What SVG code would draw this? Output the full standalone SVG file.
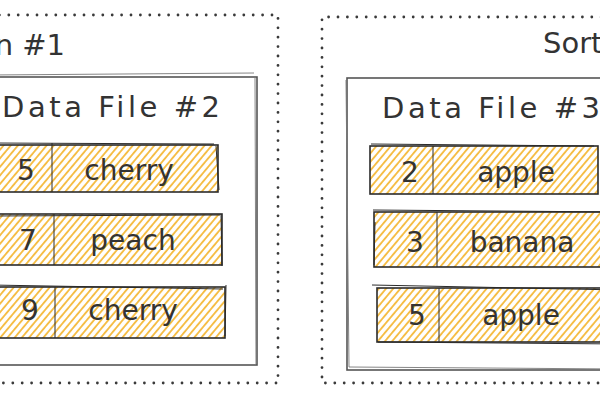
<svg xmlns="http://www.w3.org/2000/svg" width="600" height="400" viewBox="0 0 600 400">
  <defs>
    <pattern id="hatch" patternUnits="userSpaceOnUse" width="5.5" height="5.5" patternTransform="rotate(-50)">
      <line x1="0" y1="2.75" x2="5.5" y2="2.75" stroke="#f5bd45" stroke-width="1.9"/>
    </pattern>
    <style>
      .dots { fill: none; stroke: #3a3a3a; stroke-width: 2.8; stroke-linecap: round; stroke-dasharray: 0 9.4; }
      .box { fill: #fff; stroke: #555; stroke-width: 1.6; }
      .sk { fill: none; stroke: #777; stroke-width: 0.9; }
      .row { fill: url(#hatch); stroke: #2b2b2b; stroke-width: 1.6; }
      .rsk { fill: none; stroke: #2b2b2b; stroke-width: 1; }
      .t { font-family: "DejaVu Sans", "Noto Sans", sans-serif; fill: #333; }
      .title { font-size: 29px; }
      .cell { font-size: 28px; text-anchor: middle; }
    </style>
  </defs>

  <g id="container-left">
    <path class="dots" d="M-10 15 L278 15 L278 383 L-10 383"/>
    <text class="t title" x="65" y="55" text-anchor="end">n #1</text>
  </g>
  <g id="container-right">
    <path class="dots" d="M620 17 L322 17 L322 383 L620 383"/>
    <text class="t title" x="543" y="53">Sort</text>
  </g>

  <g id="file-2">
    <rect class="box" x="-10" y="77" width="267" height="288"/>
    <path class="sk" d="M-10 75 L254 73 M255 78 L256 364"/>
    <text class="t title" x="2" y="117" textLength="218" lengthAdjust="spacing">Data File #2</text>
  </g>
  <g id="file-3">
    <rect class="box" x="347" y="78" width="273" height="292"/>
    <path class="sk" d="M346 80 L349 367 L620 369"/>
    <text class="t title" x="382" y="118" textLength="218" lengthAdjust="spacing">Data File #3</text>
  </g>

  <g id="row-l1">
    <rect class="row" x="-10" y="145" width="228" height="47"/>
    <path class="rsk" d="M-10 143 L214 144 M216 146 L219 190 M52 143 L52 192"/>
    <text class="t cell" x="26" y="180">5</text>
    <text class="t cell" x="129" y="180">cherry</text>
  </g>
  <g id="row-l2">
    <rect class="row" x="-10" y="214" width="232" height="51"/>
    <path class="rsk" d="M-10 216 L220 215 M221 214 L222 266 M54 214 L54 265"/>
    <text class="t cell" x="28" y="250">7</text>
    <text class="t cell" x="133" y="250">peach</text>
  </g>
  <g id="row-l3">
    <rect class="row" x="-10" y="287" width="235" height="51"/>
    <path class="rsk" d="M-10 285 L223 289 M226 285 L225 336 M55 287 L55 338"/>
    <text class="t cell" x="30" y="320">9</text>
    <text class="t cell" x="133" y="320">cherry</text>
  </g>

  <g id="row-r1">
    <rect class="row" x="370" y="146" width="228" height="48"/>
    <path class="rsk" d="M371 144 L594 146 M433 146 L433 194"/>
    <text class="t cell" x="410" y="182">2</text>
    <text class="t cell" x="516" y="182">apple</text>
  </g>
  <g id="row-r2">
    <rect class="row" x="374" y="212" width="246" height="55"/>
    <path class="rsk" d="M373 210 L620 212 M375 222 L374 265 M437 212 L437 267"/>
    <text class="t cell" x="415" y="252">3</text>
    <text class="t cell" x="522" y="252">banana</text>
  </g>
  <g id="row-r3">
    <rect class="row" x="377" y="288" width="243" height="54"/>
    <path class="rsk" d="M372 285 L620 290 M378 342 L620 344 M439 288 L439 342"/>
    <text class="t cell" x="417" y="325">5</text>
    <text class="t cell" x="521" y="325">apple</text>
  </g>
</svg>
